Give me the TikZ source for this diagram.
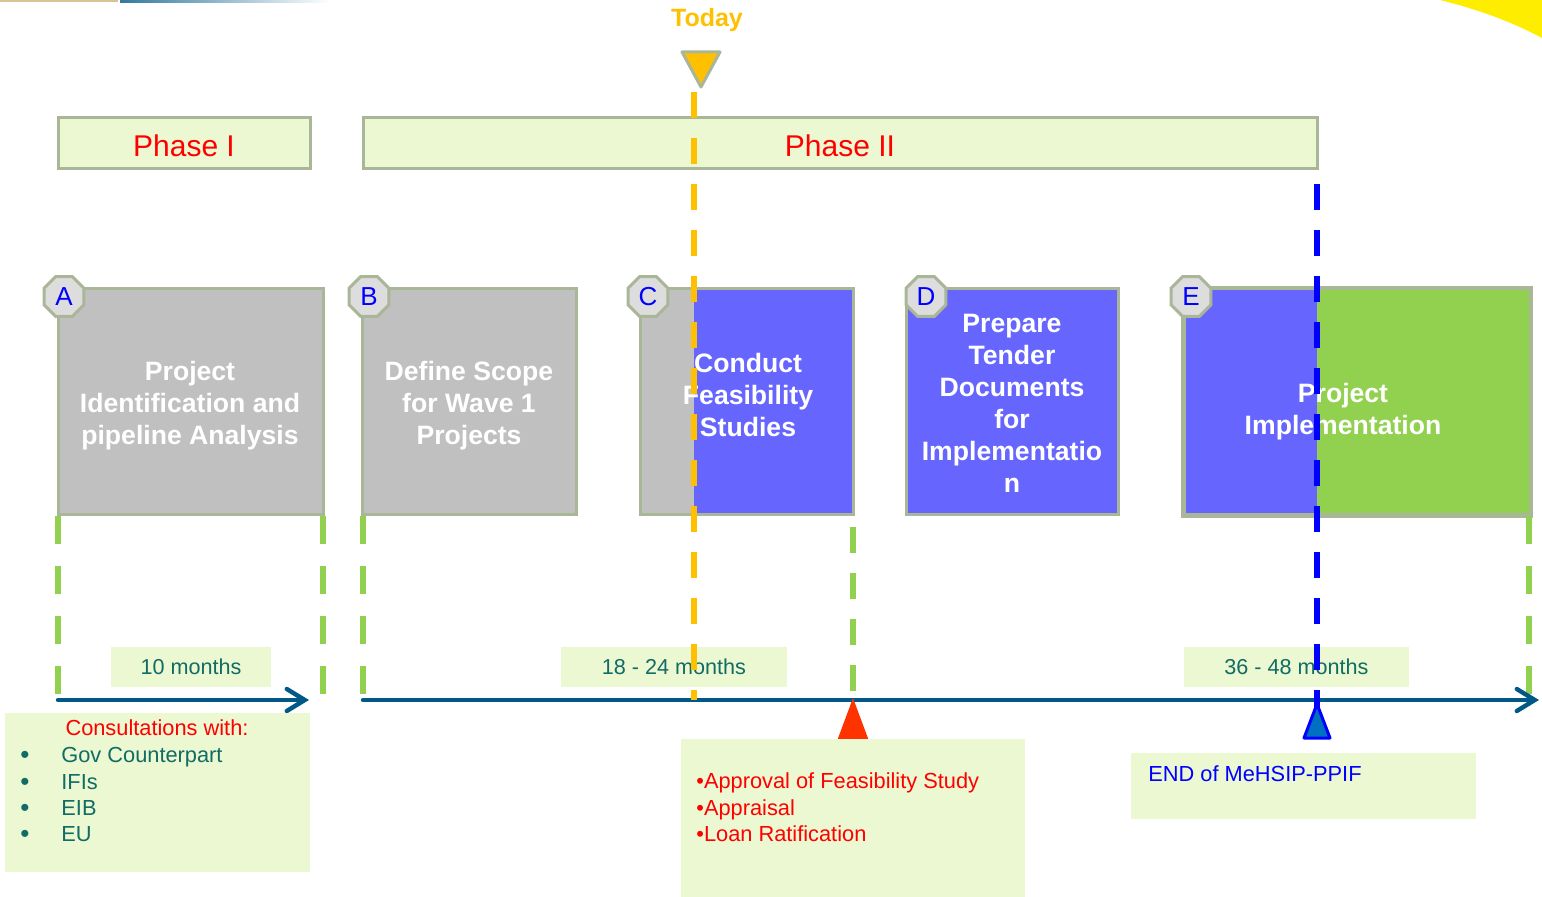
\documentclass[tikz,border=0pt]{standalone}
\usepackage{fontspec}
\setmainfont{Liberation Sans}
\usetikzlibrary{shapes.geometric,arrows.meta}
\definecolor{frame}{RGB}{170,182,152}
\definecolor{pale}{RGB}{236,248,210}
\definecolor{boxgray}{RGB}{192,192,192}
\definecolor{boxblue}{RGB}{102,102,255}
\definecolor{boxgreen}{RGB}{146,208,80}
\definecolor{tealtxt}{RGB}{16,108,100}
\definecolor{axisc}{RGB}{0,88,135}
\definecolor{todayc}{RGB}{255,192,0}
\definecolor{redtri}{RGB}{255,51,0}
\definecolor{tribl}{RGB}{0,112,192}
\definecolor{sunyellow}{RGB}{255,237,0}
\definecolor{taggray}{RGB}{221,221,221}
\definecolor{tan}{RGB}{214,196,150}
\begin{document}
\begin{tikzpicture}[x=0.5pt,y=-0.5pt,
  phase/.style={draw=frame, line width=1.5pt, fill=pale, inner sep=0, text=red,
    minimum height=25.5pt, font=\fontsize{15}{18}\selectfont},
  task/.style={draw=frame, line width=1.5pt, inner sep=0, minimum height=113pt},
  tasktext/.style={text=white, align=center, inner sep=0,
    font=\bfseries\fontsize{13.3}{16}\selectfont},
  tag/.style={regular polygon, regular polygon sides=8, draw=frame, line width=1.5pt,
    fill=taggray, inner sep=0, minimum size=21.6pt, text=blue,
    font=\fontsize{13}{15}\selectfont},
  note/.style={fill=pale, inner sep=0},
  dur/.style={fill=pale, inner sep=0, minimum height=20pt, text=tealtxt,
    font=\fontsize{10.8}{13}\selectfont},
  line/.style={anchor=base west, inner sep=0, font=\fontsize{10.9}{13}\selectfont},
  bul/.style={anchor=base west, inner sep=0, font=\fontsize{13}{13}\selectfont},
  gdash/.style={draw=boxgreen, line width=3pt, dash pattern=on 14pt off 11pt},
  gdashb/.style={draw=boxgreen, line width=3pt, dash pattern=on 13pt off 10pt},
  odash/.style={draw=todayc, line width=3pt, dash pattern=on 13pt off 10pt},
  bdash/.style={draw=blue, line width=3pt, dash pattern=on 13pt off 10pt},
  axisline/.style={draw=axisc, line width=2.2pt, line cap=round,
    -{Straight Barb[length=9pt,width=11pt,line cap=round]}}
]
\useasboundingbox (0,0) rectangle (1542,897);

% corner decorations
\fill[tan] (0,0) rectangle (118,2.5);
\shade[left color=axisc!80, right color=white] (120,0) rectangle (330,2.5);
\fill[sunyellow] (1440,0) .. controls (1480,10) and (1512,22) .. (1542,38) -- (1542,0) -- cycle;

% Today marker
\node[text=todayc, font=\bfseries\fontsize{12.5}{15}\selectfont, inner sep=0] (today) at (707,20) {Today};
\draw[frame, line width=1.5pt, fill=todayc, line join=round] (682,52) -- (720,52) -- (701,87) -- cycle;

% phases
\node[phase, minimum width=126pt] (ph1) at (184,143) {};
\node[phase, minimum width=477pt] (ph2) at (840,143) {};
\node[text=red, inner sep=0, font=\fontsize{15}{18}\selectfont] (ph1t) at (184,145.5) {Phase I};
\node[text=red, inner sep=0, font=\fontsize{15}{18}\selectfont] (ph2t) at (840,145.5) {Phase II};

% task boxes
\node[task, fill=boxgray, minimum width=132.5pt] (A) at (190.5,402) {};
\node[task, fill=boxgray, minimum width=107pt] (B) at (469,402) {};
\node[task, fill=boxgray, minimum width=106.5pt] (C) at (746.5,402) {};
\fill[boxblue] (694,290.5) rectangle (851.5,513.5);
\node[task, fill=boxblue, minimum width=106pt] (D) at (1012,402) {};
\node[task, fill=boxgreen, minimum width=173pt] (E) at (1357,402) {};
\fill[boxblue] (1185.5,290.5) rectangle (1317,513.5);
\draw[frame, line width=1.5pt] (E.south west) rectangle (E.north east);

\node[tasktext] (Atx) at (190,406) {Project\\Identification and\\pipeline Analysis};
\node[tasktext] (Btx) at (469,406) {Define Scope\\for Wave 1\\Projects};
\node[tasktext] (Ctx) at (748,395) {Conduct\\Feasibility\\Studies};
\node[tasktext] (Dtx) at (1012,403.5) {Prepare\\Tender\\Documents\\for\\Implementatio\\n};
\node[tasktext] (Etx) at (1343,411.5) {Project\\Implementation};

\node[tag] (tA) at (64,296.5) {A};
\node[tag] (tB) at (369,296.5) {B};
\node[tag] (tC) at (648,296.5) {C};
\node[tag] (tD) at (926,296.5) {D};
\node[tag] (tE) at (1191,296.5) {E};

% green guide lines
\coordinate (g1a) at (58,516);   \coordinate (g1b) at (58,694);
\coordinate (g2a) at (323,516);  \coordinate (g2b) at (323,694);
\coordinate (g3a) at (363,516);  \coordinate (g3b) at (363,694);
\coordinate (g4a) at (853,527);  \coordinate (g4b) at (853,692);
\coordinate (g5a) at (1529,516); \coordinate (g5b) at (1529,694);
\draw[gdash] (g1a) -- (g1b);
\draw[gdash] (g2a) -- (g2b);
\draw[gdash] (g3a) -- (g3b);
\draw[gdashb] (g4a) -- (g4b);
\draw[gdash] (g5a) -- (g5b);

% durations
\node[dur, minimum width=80pt] (d1) at (191,667) {10 months};
\node[dur, minimum width=113pt] (d2) at (674,667) {18 - 24 months};
\node[dur, minimum width=112.5pt] (d3) at (1296.5,667) {36 - 48 months};

% time axes
\coordinate (ax1a) at (58,700);  \coordinate (ax1b) at (309,700);
\coordinate (ax2a) at (363,700); \coordinate (ax2b) at (1539,700);
\draw[axisline] (ax1a) -- (ax1b);
\draw[axisline] (ax2a) -- (ax2b);

% milestone markers
\fill[redtri] (853,698) -- (869,741) -- (837,741) -- cycle;

% notes
\node[note, minimum width=152.5pt, minimum height=79.5pt] (cons) at (157.5,792.5) {};
\node[text=red, inner sep=0, font=\fontsize{10.9}{13}\selectfont] (constitle) at (157,728) {Consultations with:};
\foreach \y/\t [count=\i] in {762/Gov Counterpart, 789/IFIs, 815/EIB, 841/EU}{
  \node[bul, text=tealtxt] (b\i) at (20,\y+1) {•};
  \node[line, text=tealtxt] (c\i) at (61,\y) {\t};
}

\node[note, minimum width=172pt, minimum height=79pt] (appr) at (853,818) {};
\node[line, text=red] (ap1) at (696,788) {•Approval of Feasibility Study};
\node[line, text=red] (ap2) at (696,815) {•Appraisal};
\node[line, text=red] (ap3) at (696,841) {•Loan Ratification};

\node[note, minimum width=172.5pt, minimum height=33pt] (endn) at (1303.5,786) {};
\node[line, text=blue] (endt) at (1148,781) {END of MeHSIP-PPIF};

% today and end lines
\coordinate (oT) at (694,92);   \coordinate (oB) at (694,700);
\coordinate (bT) at (1317,184); \coordinate (bB) at (1317,720);
\draw[odash] (oT) -- (oB);
\draw[bdash] (bT) -- (bB);
\draw[blue, line width=1.5pt, fill=tribl, line join=round] (1317,704) -- (1330,738) -- (1304,738) -- cycle;
\end{tikzpicture}
\end{document}
